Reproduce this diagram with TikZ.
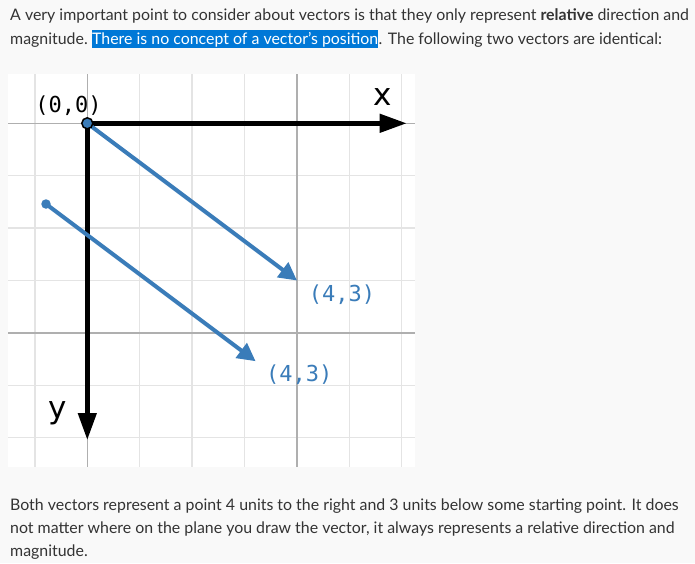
\documentclass[tikz,border=0pt]{standalone}
\usepackage{fontspec}
\setmainfont{Lato}
\newfontfamily\monofont{DejaVu Sans Mono}
\newfontfamily\axisfont{DejaVu Sans}
\usetikzlibrary{arrows.meta}
\usetikzlibrary{positioning}
\definecolor{pagegray}{RGB}{249,249,249}
\definecolor{textgray}{RGB}{51,51,51}
\definecolor{selblue}{RGB}{0,120,215}
\definecolor{vecblue}{RGB}{58,124,185}
\definecolor{gridlight}{RGB}{228,228,228}
\definecolor{gridmid}{RGB}{175,175,175}
\tikzstyle{para} = [anchor=base west, inner sep=0pt, text=textgray, font=\fontsize{15.9}{19}\selectfont]
\tikzstyle{coordlabel} = [inner sep=0pt, font=\monofont\fontsize{22}{25}\selectfont]
\tikzstyle{axislabel} = [inner sep=0pt, font=\axisfont\fontsize{31}{34}\selectfont]
\tikzstyle{axis} = [line width=4.5pt, -{Triangle[length=27pt,width=18pt]}]
\tikzstyle{vector} = [vecblue, line width=4pt, -{Triangle[length=18pt,width=18pt]}]
\tikzstyle{gridline} = [gridlight, line width=1.5pt]
\tikzstyle{mainline} = [gridmid, line width=1.2pt]

\begin{document}
\begin{tikzpicture}[x=1pt, y=-1pt]
\useasboundingbox (0,0) rectangle (695,563);
\fill[pagegray] (0,0) rectangle (695,563);
\fill[white] (8.3,74) rectangle (415,466.7);

% grid
\foreach \i in {-1,1,2,3,5,6} \draw[gridline] (87.3+52.4*\i,74) -- (87.3+52.4*\i,466.7);
\foreach \j in {1,2,3,5,6} \draw[gridline] (8.3,123.3+52.4*\j) -- (415,123.3+52.4*\j);
\foreach \i in {0,4} {
  \draw[mainline] (87.3+52.4*\i,74) -- (87.3+52.4*\i,466.7);
  \draw[mainline] (8.3,123.3+52.4*\i) -- (415,123.3+52.4*\i);
}

\coordinate (origin) at (87.3,123.3);
\coordinate (xend) at (406.7,123.3);
\coordinate (yend) at (87.3,440);
\coordinate (tipa) at (297,280.5);
\coordinate (startb) at (46,204);
\coordinate (tipb) at (255.6,361.2);

\draw[axis] (origin) -- (xend);
\draw[axis] (origin) -- (yend);
\draw[vector] (origin) -- (tipa);
\draw[vector] (startb) -- (tipb);
\node (origindot) [circle, fill=vecblue, draw=black, line width=1.5pt, minimum size=11pt, inner sep=0pt] at (origin) {};
\node (startdot) [circle, fill=vecblue, minimum size=9.5pt, inner sep=0pt] at (startb) {};

\node (zerolabel) [coordlabel] at (68.5,105.8) {(0,0)};
\node (labela) [coordlabel, text=vecblue] at (342,294.2) {(4,3)};
\node (labelb) [coordlabel, text=vecblue] at (299.3,374.2) {(4,3)};
\node (xlabel) [axislabel] at (383,97.5) {x};
\node (ylabel) [axislabel] at (58,413) {y};

\node (lineone) [para] at (10,20.7) {A very important point to consider about vectors is that they only represent \textbf{relative} direction and};
\node (linetwo) [para] at (10,44.3) {magnitude.};
\node (mark) [para, fill=selblue, text=white, text height=14pt, text depth=4pt] at ([xshift=4pt]linetwo.base east) {There is no concept of a vector’s position};
\node (linetwoend) [para] at (mark.base east) {. The following two vectors are identical:};

\node (lastone) [para] at (10,510) {Both vectors represent a point 4 units to the right and 3 units below some starting point. It does};
\node (lasttwo) [para] at (10,533.5) {not matter where on the plane you draw the vector, it always represents a relative direction and};
\node (lastthree) [para] at (10,556.5) {magnitude.};
\end{tikzpicture}
\end{document}
